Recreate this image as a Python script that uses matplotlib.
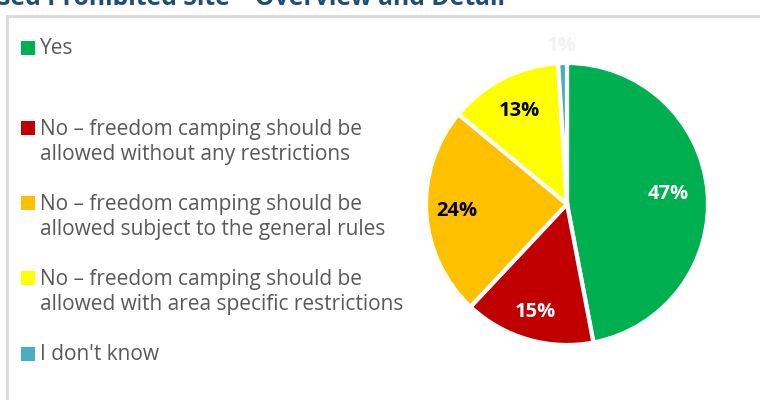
import matplotlib
matplotlib.use("Agg")
import matplotlib.pyplot as plt
from matplotlib.patches import Rectangle
import numpy as np

categories = [
    "Yes",
    "No \u2013 freedom camping should be\nallowed without any restrictions",
    "No \u2013 freedom camping should be\nallowed subject to the general rules",
    "No \u2013 freedom camping should be\nallowed with area specific restrictions",
    "I don't know",
]
values = [47, 15, 24, 13, 1]
colors = ["#00B050", "#C00000", "#FFC000", "#FFFF00", "#4BACC6"]
label_colors = ["white", "white", "black", "black", "#F2F2F2"]
title = "sed Prohibited Site \u2013 Overview and Detail"

plt.rcParams['font.family'] = ['Open Sans', 'DejaVu Sans']

W, H = 760, 400
fig = plt.figure(figsize=(7.6, 4.0), dpi=100)
fig.patch.set_facecolor("white")

# frame
fig.add_artist(Rectangle((7 / W, -0.1), 1.0, (400 - 16) / H + 0.1, transform=fig.transFigure,
                         fill=False, edgecolor="#D9D9D9", linewidth=2))

# cut-off title (only the bottom of the letters shows, as in the reference)
fig.text(-2 / W, 1 - 5 / H, title, ha="left", va="baseline", fontsize=17.8, fontweight="bold",
         color="#1F4E79")

# pie
cx, cy, r = 567, 400 - 204, 141
ax = fig.add_axes([(cx - r) / W, (cy - r) / H, 2 * r / W, 2 * r / H])
wedges, _ = ax.pie(values, colors=colors, startangle=90, counterclock=False,
                   wedgeprops=dict(edgecolor="white", linewidth=3), radius=1.0)
ax.set_xlim(-1, 1)
ax.set_ylim(-1, 1)
ax.set_aspect("equal")
ax.axis("off")

dists = [0.72, 0.80, 0.78, 0.74, 1.12]
for w, v, c, d in zip(wedges, values, label_colors, dists):
    ang = np.deg2rad((w.theta1 + w.theta2) / 2)
    ax.text(d * np.cos(ang), d * np.sin(ang), f"{v}%", ha="center", va="center",
            fontsize=14.5, fontweight="bold", color=c, clip_on=False)

# legend
ys = [48, 142, 217, 292, 354]
for lab, col, y in zip(categories, colors, ys):
    nlines = lab.count("\n") + 1
    ytop = y - (nlines - 1) * 14
    fig.add_artist(Rectangle((21 / W, 1 - (ytop + 7) / H), 14 / W, 14 / H,
                             transform=fig.transFigure, facecolor=col, edgecolor="none"))
    fig.text(40 / W, 1 - y / H, lab, ha="left", va="center", fontsize=15,
             color="#595959", linespacing=1.2)

fig.savefig("out.png", dpi=100)
